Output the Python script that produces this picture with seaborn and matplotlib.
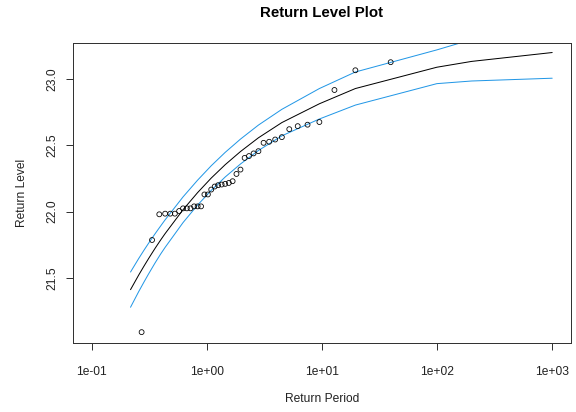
import matplotlib
matplotlib.use("Agg")
import matplotlib.pyplot as plt
import seaborn as sns
import pandas as pd

# ---- data ----
# empirical points (return period, return level)
point_period = [0.271, 0.334, 0.386, 0.434, 0.481, 0.527, 0.574, 0.621, 0.670, 0.721,
                0.775, 0.831, 0.890, 0.952, 1.020, 1.091, 1.169, 1.252, 1.343, 1.443,
                1.552, 1.673, 1.807, 1.958, 2.128, 2.321, 2.545, 2.804, 3.109, 3.476,
                3.922, 4.481, 5.198, 6.153, 7.489, 9.491, 12.83, 19.50, 39.50]
point_level = [21.09, 21.786, 21.98, 21.985, 21.985, 21.985, 22.005, 22.025, 22.025, 22.025,
               22.04, 22.04, 22.04, 22.13, 22.13, 22.167, 22.19, 22.20, 22.205, 22.21,
               22.217, 22.23, 22.285, 22.318, 22.406, 22.42, 22.44, 22.457, 22.52, 22.528,
               22.545, 22.563, 22.623, 22.646, 22.657, 22.677, 22.919, 23.068, 23.129]

# fitted curve and confidence band
curve_period = [0.2171, 0.2556, 0.2852, 0.3107, 0.3338, 0.3554, 0.3760, 0.3959, 0.4153, 0.4343,
                0.6213, 0.8306, 1.0914, 1.4427, 1.9576, 2.8037, 4.4814, 9.4912, 19.496, 99.50,
                199.5, 999.5]
curve_level = [21.411, 21.521, 21.591, 21.644, 21.687, 21.724, 21.756, 21.785, 21.811, 21.835,
               22.015, 22.144, 22.254, 22.355, 22.454, 22.558, 22.673, 22.815, 22.930, 23.091,
               23.135, 23.202]
curve_upper = [21.544, 21.646, 21.711, 21.760, 21.800, 21.834, 21.864, 21.891, 21.916, 21.939,
               22.112, 22.238, 22.347, 22.448, 22.548, 22.654, 22.773, 22.930, 23.055, 23.222,
               23.300, 23.400]
curve_lower = [21.278, 21.396, 21.471, 21.528, 21.574, 21.614, 21.648, 21.679, 21.706, 21.731,
               21.918, 22.050, 22.161, 22.262, 22.360, 22.462, 22.573, 22.700, 22.805, 22.967,
               22.987, 23.008]

x_ticks = [0.1, 1, 10, 100, 1000]
x_tick_labels = ["1e-01", "1e+00", "1e+01", "1e+02", "1e+03"]
y_ticks = [21.5, 22.0, 22.5, 23.0]
y_tick_labels = ["21.5", "22.0", "22.5", "23.0"]

title = "Return Level Plot"
x_label = "Return Period"
y_label = "Return Level"

# ---- styling ----
sns.set_theme(style="white")
plt.rcParams["font.family"] = ["Liberation Sans", "DejaVu Sans"]

W, H = 576, 412
fig = plt.figure(figsize=(W / 72, H / 72), dpi=72)
L, R, T, B = 73, 571, 43, 343
ax = fig.add_axes([L / W, 1 - B / H, (R - L) / W, (B - T) / H])

curve_df = pd.DataFrame({"period": curve_period, "level": curve_level,
                         "upper": curve_upper, "lower": curve_lower})
pts_df = pd.DataFrame({"period": point_period, "level": point_level})

blue = "#2297E6"
sns.lineplot(data=curve_df, x="period", y="level", ax=ax, color="black",
             lw=1.0, sort=False, estimator=None)
sns.lineplot(data=curve_df, x="period", y="upper", ax=ax, color=blue,
             lw=1.0, sort=False, estimator=None)
sns.lineplot(data=curve_df, x="period", y="lower", ax=ax, color=blue,
             lw=1.0, sort=False, estimator=None)
sns.scatterplot(data=pts_df, x="period", y="level", ax=ax, marker="o",
                s=24, facecolor="none", edgecolor="black", linewidth=0.8, zorder=3)

ax.set_xscale("log")
ax.set_xlim(0.0687, 1456)
ax.set_ylim(21.008, 23.274)

ax.set_xticks(x_ticks)
ax.set_xticklabels(x_tick_labels)
ax.xaxis.set_minor_locator(matplotlib.ticker.NullLocator())
ax.set_yticks(y_ticks)
ax.set_yticklabels(y_tick_labels, rotation=90, va="center")

for s in ax.spines.values():
    s.set_color("#333333")
    s.set_linewidth(1.0)

ax.tick_params(axis="both", which="major", direction="out", length=7, width=1.0,
               color="#333333", labelsize=12, labelcolor="#222222")
ax.tick_params(axis="x", pad=16)
ax.tick_params(axis="y", pad=8)
ax.tick_params(bottom=True, left=True, top=False, right=False)

ax.set_xlabel(x_label, fontsize=12, color="#222222", labelpad=15)
ax.set_ylabel(y_label, fontsize=12, color="#222222", labelpad=18)
fig.text((L + R) / 2 / W, 1 - 13 / H, title, ha="center", va="center",
         fontsize=15, fontweight="bold", color="black")

fig.savefig("out.png", dpi=72, facecolor="white")
